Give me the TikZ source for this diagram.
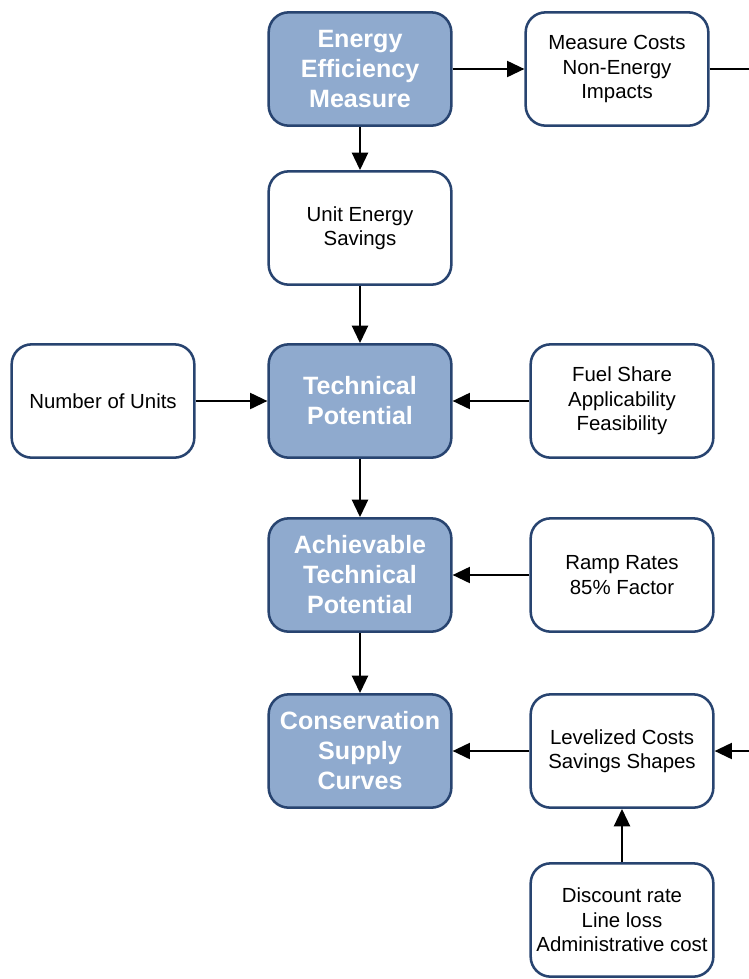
\documentclass[tikz,border=0pt]{standalone}
\usepackage{fontspec}
\setmainfont{Liberation Sans}
\usetikzlibrary{arrows.meta}
\definecolor{boxblue}{RGB}{143,170,206}
\definecolor{edgeblue}{RGB}{40,68,112}
\tikzset{
  base/.style={draw=edgeblue, line width=1.9pt, rounded corners=15pt, minimum width=137pt, minimum height=85pt, inner sep=0pt, align=center},
  bluebox/.style={base, fill=boxblue, text=white, font=\fontsize{18.8}{22.5}\selectfont\bfseries},
  whitebox/.style={base, fill=white, text=black, font=\fontsize{15.3}{18.4}\selectfont},
  conn/.style={line width=1.6pt, -{Triangle[length=13pt,width=12pt]}},
  plain/.style={line width=1.6pt}
}
\begin{document}
\begin{tikzpicture}[x=0.75pt,y=-0.75pt]
\useasboundingbox (0,0) rectangle (749,979);
\node[bluebox] (eem) at (360,69) {Energy\\Efficiency\\Measure};
\node[whitebox] (mc) at (617,69) {Measure Costs\\Non-Energy\\Impacts};
\node[whitebox] (ues) at (360,228) {Unit Energy\\Savings};
\node[whitebox] (nou) at (103,401) {Number of Units};
\node[bluebox] (tp) at (360,401) {Technical\\Potential};
\node[whitebox] (fs) at (622,401) {Fuel Share\\Applicability\\Feasibility};
\node[bluebox] (atp) at (360,575) {Achievable\\Technical\\Potential};
\node[whitebox] (rr) at (622,575) {Ramp Rates\\85\% Factor};
\node[bluebox] (csc) at (360,751) {Conservation\\Supply\\Curves};
\node[whitebox] (lc) at (622,751) {Levelized Costs\\Savings Shapes};
\node[whitebox] (dr) at (622,920) {Discount rate\\Line loss\\Administrative cost};
\coordinate (r1) at (749,69);
\coordinate (r2) at (749,751);
\draw[conn] (eem) -- (mc);
\draw[plain] (mc) -- (r1);
\draw[conn] (r2) -- (lc);
\draw[conn] (eem) -- (ues);
\draw[conn] (ues) -- (tp);
\draw[conn] (nou) -- (tp);
\draw[conn] (fs) -- (tp);
\draw[conn] (tp) -- (atp);
\draw[conn] (rr) -- (atp);
\draw[conn] (atp) -- (csc);
\draw[conn] (lc) -- (csc);
\draw[conn] (dr) -- (lc);
\end{tikzpicture}
\end{document}
